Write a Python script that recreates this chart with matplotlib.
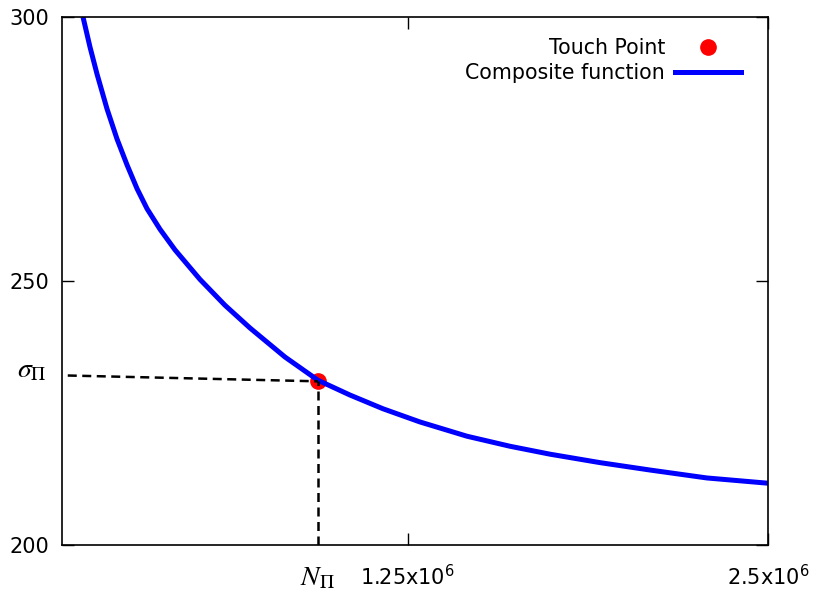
import matplotlib
matplotlib.use("Agg")
import matplotlib.pyplot as plt
from matplotlib.lines import Line2D

# curve
n_vals = [0.1229e6, 0.1472e6, 0.1715e6, 0.2062e6, 0.2409e6, 0.2756e6,
          0.3103e6, 0.3450e6, 0.3901e6, 0.4421e6, 0.5289e6, 0.6157e6,
          0.7024e6, 0.8239e6, 0.9384e6, 1.0494e6, 1.1640e6, 1.2924e6,
          1.4555e6, 1.6047e6, 1.7435e6, 1.9170e6, 2.0905e6, 2.2874e6,
          2.5000e6]
sigma_vals = [300.0, 294.3, 289.2, 282.6, 276.9, 272.0,
              267.5, 263.7, 259.8, 255.9, 250.3, 245.4,
              241.1, 235.6, 231.2, 228.4, 225.8, 223.3,
              220.6, 218.7, 217.2, 215.6, 214.2, 212.7,
              211.7]

touch_n = 0.938e6
touch_sigma = 231.0
sigma_label_y = 232.1

xticks = [1.25e6, 2.5e6]
xlabels = [r'1.25x10$^6$', r'2.5x10$^6$']
yticks = [200, 250, 300]

fig = plt.figure(figsize=(8.17, 5.92), dpi=100)
ax = fig.add_axes([62/817, 1-545/592, 706/817, 528/592])

ax.plot(n_vals, sigma_vals, color='#0000ff', lw=3.6, solid_capstyle='butt')
ax.plot([0.07e6, touch_n], [sigma_label_y, touch_sigma], color='black',
        lw=1.8, dashes=(3.6, 2.2))
ax.plot([touch_n, touch_n], [200, touch_sigma], color='black',
        lw=1.8, dashes=(3.6, 2.2))
ax.plot([touch_n], [touch_sigma], 'o', color='#ff0000', ms=11, zorder=1)

ax.set_xlim(0.05e6, 2.5e6)
ax.set_ylim(200, 300)
ax.set_xticks(xticks)
ax.set_xticklabels(xlabels)
ax.set_yticks(yticks)
ax.tick_params(direction='in', top=True, right=True, length=8.6, width=1,
               labelsize=15, pad=9)
ax.tick_params(axis='x', pad=14)
for s in ax.spines.values():
    s.set_linewidth(1.2)

ax.text(touch_n, 196.5, r'$N_\Pi$', ha='center', va='top', fontsize=20,
        math_fontfamily='stix')
ax.text(-0.022, sigma_label_y + 1.2, r'$\sigma_\Pi$', ha='right', va='center',
        fontsize=20, math_fontfamily='stix',
        transform=ax.get_yaxis_transform())

handles = [Line2D([], [], ls='none', marker='o', color='#ff0000', ms=11),
           Line2D([], [], color='#0000ff', lw=3.6)]
ax.legend(handles, ['Touch Point', 'Composite function'], loc='upper right',
          bbox_to_anchor=(0.988, 0.995), markerfirst=False, frameon=False,
          fontsize=14.8, handlelength=3.2, labelspacing=0.25, handletextpad=0.5)

fig.savefig('out.png', dpi=100)
